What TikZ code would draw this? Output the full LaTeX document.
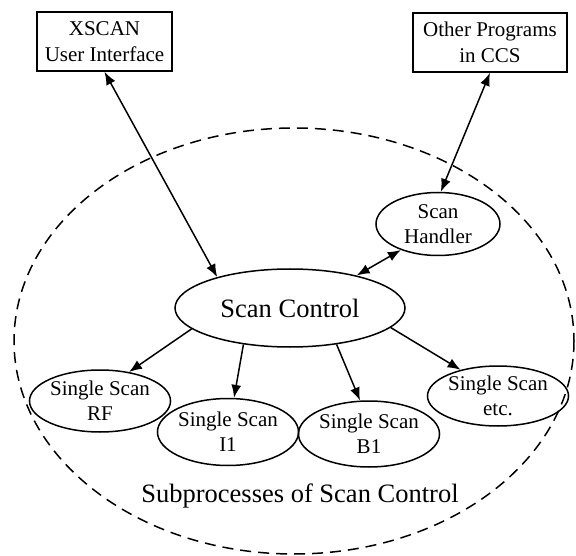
\documentclass[tikz,border=0pt]{standalone}
\usepackage{fontspec}
\setmainfont{Liberation Serif}
\usetikzlibrary{shapes.geometric,arrows.meta}
\tikzset{
  box/.style={draw,line width=1.6pt,inner sep=0pt,align=center,font=\fontsize{21}{26}\selectfont},
  proc/.style={draw,ellipse,line width=1.5pt,inner sep=0pt,align=center,minimum width=124pt,minimum height=62pt,font=\fontsize{21}{25}\selectfont},
  link/.style={line width=1.5pt,-{Latex[length=13pt,width=10pt]}},
  dlink/.style={line width=1.5pt,{Latex[length=13pt,width=10pt]}-{Latex[length=13pt,width=10pt]}},
}
\begin{document}
\begin{tikzpicture}[x=1pt,y=-1pt]
\useasboundingbox (0,0) rectangle (576,556);
\draw[line width=1.5pt,dash pattern=on 11pt off 7pt] (294,341) ellipse [x radius=280, y radius=213];
\node[box,minimum width=135pt,minimum height=59pt] (xscan) at (104.5,41.5) {XSCAN\\User Interface};
\node[box,minimum width=154pt,minimum height=59pt] (other) at (490,42.5) {Other Programs\\in CCS};
\node[proc,minimum height=63pt] (sh) at (438,224) {Scan\\Handler};
\node[proc,minimum width=230pt,minimum height=78pt,font=\fontsize{26.5}{30}\selectfont] (sc) at (290,308) {Scan Control};
\node[proc] (rf) at (100,401) {Single Scan\\RF};
\node[proc,minimum height=67pt] (i1) at (228,432) {Single Scan\\I1};
\node[proc,minimum height=66pt] (b1) at (369,434) {Single Scan\\B1};
\node[proc,minimum height=60pt] (etc) at (498,396) {Single Scan\\etc.};
\node[font=\fontsize{26.5}{30}\selectfont,inner sep=0pt] (lbl) at (300,496) {Subprocesses of Scan Control};
\draw[dlink] (xscan.south) -- (sc.157);
\draw[dlink] (other.south) -- (sh.85);
\draw[dlink] (sh.215) -- (sc.26);
\draw[link] (sc.192) -- (rf.45);
\draw[link] (sc.218) -- (i1.80);
\draw[link] (sc.322) -- (b1.105);
\draw[link] (sc.349) -- (etc.145);
\end{tikzpicture}
\end{document}
